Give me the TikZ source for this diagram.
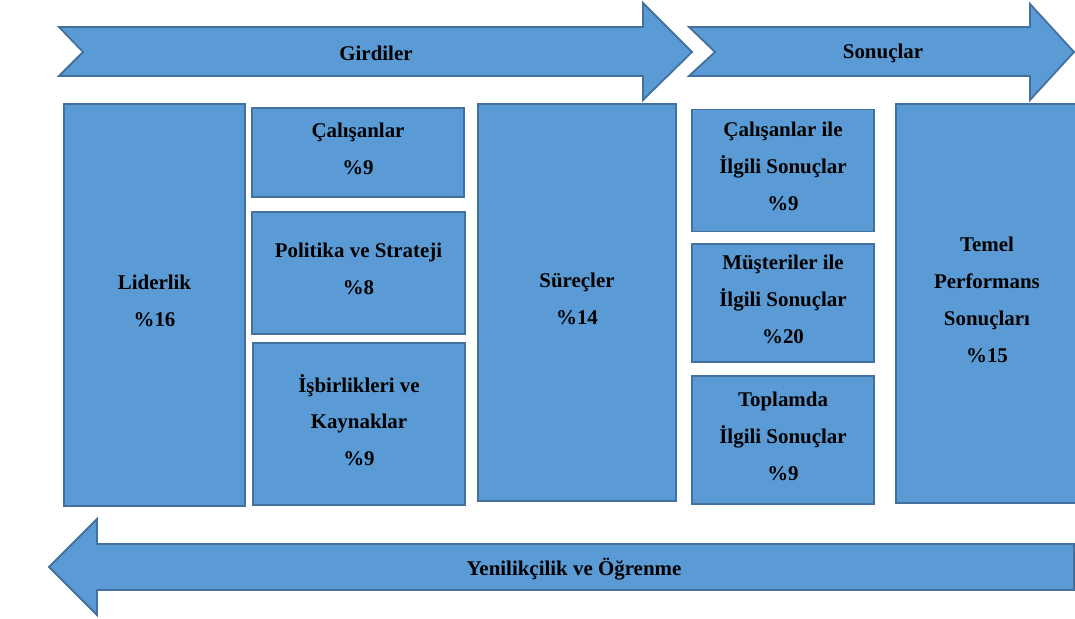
\documentclass[tikz,border=0pt]{standalone}
\usepackage{fontspec}
\setmainfont{Liberation Serif}
\definecolor{boxfill}{HTML}{5B9BD5}
\definecolor{boxline}{HTML}{41719C}
\tikzset{
  x=1bp, y=-1bp,
  shapeA/.style={fill=boxfill, draw=boxline, line width=1.8bp, line join=miter},
  card/.style={shapeA, rectangle, inner sep=0pt, align=center, text depth=8bp,
    font=\bfseries\fontsize{21}{37}\selectfont},
  lbl/.style={inner sep=0pt, font=\bfseries\fontsize{21}{25}\selectfont}
}
\begin{document}
\begin{tikzpicture}
\useasboundingbox (0,0) rectangle (1075,619);
% top arrows
\draw[shapeA] (59,27) -- (643,27) -- (643,3) -- (692,52) -- (643,100) -- (643,76) -- (59,76) -- (83,52) -- cycle;
\node[lbl] (gir) at (376,53) {Girdiler};
\draw[shapeA] (689,27) -- (1030,27) -- (1030,4) -- (1074,52) -- (1030,100) -- (1030,76) -- (689,76) -- (715,52) -- cycle;
\node[lbl] (son) at (883,53) {Sonuçlar};
% bottom arrow
\draw[shapeA] (49,567) -- (97,519) -- (97,544) -- (1074,544) -- (1074,590) -- (97,590) -- (97,615) -- cycle;
\node[lbl] (yen) at (574,569) {Yenilikçilik ve Öğrenme};
% boxes
\node[card, minimum width=181bp, minimum height=402bp] (lid) at (154.5,305) {Liderlik\\\%16};
\node[card, minimum width=212bp, minimum height=89bp] (cal) at (358,152.5) {Çalışanlar\\\%9};
\node[card, minimum width=213bp, minimum height=122bp] (pol) at (358.5,273) {Politika ve Strateji\\\%8};
\node[card, minimum width=212bp, minimum height=162bp] (isb) at (359,424) {İşbirlikleri ve\\Kaynaklar\\\%9};
\node[card, minimum width=198bp, minimum height=397bp] (sur) at (577,302.5) {Süreçler\\\%14};
\node[card, minimum width=182bp, minimum height=122bp] (cil) at (783,170.5) {Çalışanlar ile\\İlgili Sonuçlar\\\%9};
\node[card, minimum width=182bp, minimum height=118bp] (mus) at (783,303) {Müşteriler ile\\İlgili Sonuçlar\\\%20};
\node[card, minimum width=182bp, minimum height=128bp] (top) at (783,440) {Toplamda\\İlgili Sonuçlar\\\%9};
\node[card, minimum width=182bp, minimum height=399bp] (tem) at (987,303.5) {Temel\\Performans\\Sonuçları\\\%15};
\end{tikzpicture}
\end{document}
